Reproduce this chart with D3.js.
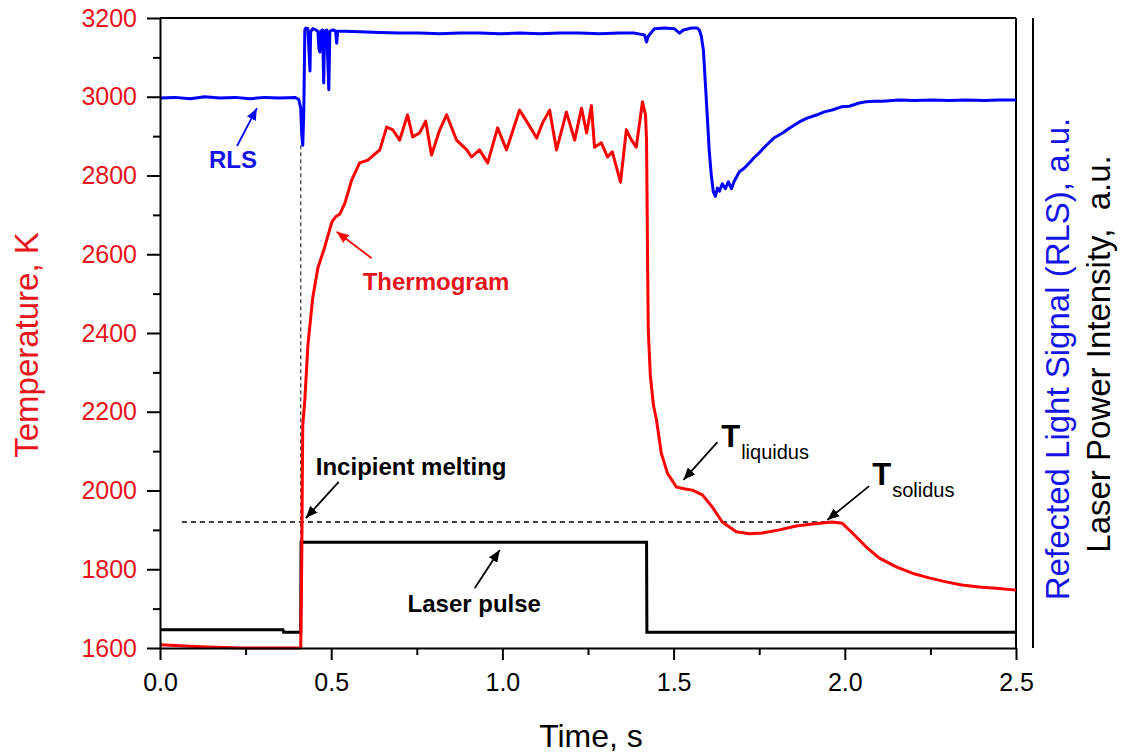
<!DOCTYPE html>
<html>
<head>
<meta charset="utf-8">
<script src="https://cdn.jsdelivr.net/npm/d3@7"></script>
<style>
html,body{margin:0;padding:0;background:#fff;}
svg{display:block;font-family:"Liberation Sans",Arial,sans-serif;}
</style>
</head>
<body>
<svg id="chart" width="1130" height="753"></svg>
<script>
// ---------- DATA ----------
// Thermogram (temperature, K)
const thermoTime = [0,0.117,0.233,0.408,0.411,0.414,0.416,0.417,0.423,0.432,0.446,0.461,0.481,0.502,0.513,0.525,0.540,0.560,0.583,0.607,0.624,0.642,0.662,0.680,0.700,0.723,0.738,0.758,0.776,0.793,0.817,0.837,0.866,0.896,0.910,0.933,0.957,0.986,1.012,1.050,1.074,1.100,1.117,1.138,1.158,1.187,1.211,1.231,1.246,1.260,1.269,1.289,1.307,1.321,1.345,1.362,1.377,1.391,1.409,1.418,1.421,1.424,1.426,1.432,1.441,1.450,1.464,1.482,1.508,1.534,1.555,1.584,1.613,1.642,1.683,1.721,1.759,1.809,1.858,1.905,1.963,1.992,2.022,2.062,2.100,2.150,2.197,2.246,2.296,2.342,2.392,2.442,2.5];
const thermoTemp = [1608,1603,1600,1600,1600,1823,2077,2166,2230,2370,2489,2565,2618,2682,2695,2702,2730,2789,2832,2839,2852,2865,2923,2916,2890,2954,2898,2908,2938,2852,2916,2954,2890,2865,2847,2865,2832,2921,2865,2966,2933,2895,2933,2966,2865,2961,2890,2971,2908,2977,2872,2883,2847,2860,2783,2916,2890,2872,2987,2954,2890,2585,2408,2293,2217,2179,2095,2044,2009,2004,2001,1989,1958,1920,1895,1890,1892,1900,1910,1915,1920,1917,1892,1857,1829,1806,1790,1778,1768,1760,1755,1752,1747];

// Reflected light signal (a.u.)
const rlsTime = [0,0.044,0.088,0.131,0.175,0.219,0.263,0.306,0.350,0.394,0.405,0.411,0.414,0.417,0.420,0.423,0.426,0.432,0.435,0.438,0.440,0.446,0.455,0.461,0.464,0.467,0.470,0.475,0.478,0.481,0.487,0.493,0.496,0.505,0.513,0.516,0.519,0.540,0.583,0.642,0.700,0.758,0.817,0.875,0.933,0.992,1.050,1.109,1.167,1.225,1.284,1.342,1.386,1.415,1.421,1.426,1.444,1.473,1.502,1.517,1.529,1.552,1.569,1.575,1.581,1.587,1.593,1.599,1.604,1.610,1.616,1.622,1.628,1.634,1.642,1.651,1.660,1.669,1.677,1.692,1.707,1.721,1.736,1.750,1.771,1.794,1.817,1.838,1.867,1.890,1.917,1.940,1.963,1.990,2.013,2.042,2.062,2.086,2.109,2.159,2.202,2.255,2.305,2.354,2.407,2.450,2.5];
const rlsValue = [87.3,87.4,87.2,87.5,87.3,87.4,87.2,87.4,87.3,87.4,87.1,85.7,81.4,79.8,85.4,98.1,98.4,98.3,94.9,91.6,97.8,98.3,98.1,97.9,95.2,94.6,97.9,98.1,89.7,97.9,98.1,88.6,97.9,98.1,97.9,96.0,97.9,97.9,97.8,97.7,97.6,97.6,97.5,97.6,97.6,97.5,97.6,97.5,97.6,97.6,97.5,97.6,97.6,97.3,96.2,97.1,98.3,98.4,98.3,97.6,98.1,98.4,98.4,98.1,97.1,94.9,89.4,83.8,79.0,75.1,72.4,71.7,73.0,72.5,73.7,72.9,74.0,72.9,74.1,75.6,76.2,77.0,77.9,78.6,79.8,81.0,81.7,82.5,83.5,84.1,84.6,85.1,85.4,85.9,86.0,86.5,86.7,86.8,86.8,87.0,86.9,87.0,86.9,87.0,86.9,87.0,87.0];

// Laser power intensity (a.u.)
const laserTime  = [0,0.359,0.361,0.411,0.412,1.421,1.422,2.5];
const laserValue = [2.9,2.9,2.5,2.5,16.8,16.8,2.5,2.5];

// Axis ticks
const xMajorTicks = [0,0.5,1.0,1.5,2.0,2.5];
const xMinorTicks = [0.25,0.75,1.25,1.75,2.25];
const yMajorTicks = [1600,1800,2000,2200,2400,2600,2800,3000,3200];
const yMinorTicks = [1700,1900,2100,2300,2500,2700,2900,3100];

// Reference levels
const meltTemp = 1920;           // incipient melting / solidus level, K
const meltLineStart = 0.064, meltLineEnd = 1.984;
const onsetTime = 0.411;         // laser onset, s
const onsetRlsDip = 79.8;        // RLS dip at onset, a.u.

// ---------- LAYOUT ----------
const svg = d3.select("#chart");
const L = 160, R = 1016, T = 18, B = 648;
const RED = "#ff0000", REDTXT = "#e8141c", BLUE = "#0000ff", BLUETXT = "#1414e6";

const x = d3.scaleLinear().domain([0, 2.5]).range([L, R]);
const y = d3.scaleLinear().domain([1600, 3200]).range([B, T]);
const yR = d3.scaleLinear().domain([0, 100]).range([B, T]);

// frame: top and right borders + extra right axis line
svg.append("line").attr("x1", L).attr("x2", R).attr("y1", T).attr("y2", T)
  .attr("stroke", "#000").attr("stroke-width", 2);
svg.append("line").attr("x1", R).attr("x2", R).attr("y1", T).attr("y2", B)
  .attr("stroke", "#000").attr("stroke-width", 2);
svg.append("line").attr("x1", 1033).attr("x2", 1033).attr("y1", T).attr("y2", B)
  .attr("stroke", "#000").attr("stroke-width", 2);

// dashed reference lines
svg.append("line")
  .attr("x1", x(onsetTime)).attr("x2", x(onsetTime))
  .attr("y1", yR(onsetRlsDip)).attr("y2", y(1600))
  .attr("stroke", "#444").attr("stroke-width", 1.3).attr("stroke-dasharray", "4,3");
svg.append("line")
  .attr("x1", x(meltLineStart)).attr("x2", x(meltLineEnd))
  .attr("y1", y(meltTemp)).attr("y2", y(meltTemp))
  .attr("stroke", "#000").attr("stroke-width", 1.3).attr("stroke-dasharray", "5,4");

// lines
const laserData = laserTime.map((t, i) => [t, laserValue[i]]);
const rlsData = rlsTime.map((t, i) => [t, rlsValue[i]]);
const thermoData = thermoTime.map((t, i) => [t, thermoTemp[i]]);

svg.append("path").datum(laserData)
  .attr("d", d3.line().x(d => x(d[0])).y(d => yR(d[1])))
  .attr("fill", "none").attr("stroke", "#000").attr("stroke-width", 3);
svg.append("path").datum(rlsData)
  .attr("d", d3.line().x(d => x(d[0])).y(d => yR(d[1])))
  .attr("fill", "none").attr("stroke", BLUE).attr("stroke-width", 3).attr("stroke-linejoin", "round");
svg.append("path").datum(thermoData)
  .attr("d", d3.line().x(d => x(d[0])).y(d => y(d[1])))
  .attr("fill", "none").attr("stroke", RED).attr("stroke-width", 3).attr("stroke-linejoin", "round");

// axes
const fmtX = d3.format(".1f");
const gx = svg.append("g").attr("transform", `translate(0,${B})`)
  .call(d3.axisBottom(x).tickValues(xMajorTicks).tickFormat(fmtX).tickSize(12).tickPadding(13).tickSizeOuter(0));
svg.append("g").attr("transform", `translate(0,${B})`)
  .call(d3.axisBottom(x).tickValues(xMinorTicks).tickFormat("").tickSize(7).tickSizeOuter(0))
  .select(".domain").remove();
const gy = svg.append("g").attr("transform", `translate(${L},0)`)
  .call(d3.axisLeft(y).tickValues(yMajorTicks).tickFormat(d3.format("d")).tickSize(13).tickPadding(10).tickSizeOuter(0));
svg.append("g").attr("transform", `translate(${L},0)`)
  .call(d3.axisLeft(y).tickValues(yMinorTicks).tickFormat("").tickSize(7).tickSizeOuter(0))
  .select(".domain").remove();

svg.selectAll(".domain").attr("stroke", "#000").attr("stroke-width", 2);
svg.selectAll(".tick line").attr("stroke", "#000").attr("stroke-width", 2);
gx.selectAll("text").attr("font-size", 25).attr("fill", "#000")
  .attr("font-family", "'Liberation Sans',Arial,sans-serif");
gy.selectAll("text").attr("font-size", 25).attr("fill", REDTXT)
  .attr("font-family", "'Liberation Sans',Arial,sans-serif");

// axis titles
svg.append("text").attr("x", 591).attr("y", 747).attr("text-anchor", "middle")
  .attr("font-size", 32).attr("fill", "#000").text("Time, s");
svg.append("text").attr("transform", "translate(38,345) rotate(-90)").attr("text-anchor", "middle")
  .attr("font-size", 33).attr("fill", REDTXT).text("Temperature, K");
svg.append("text").attr("transform", "translate(1069,359) rotate(-90)").attr("text-anchor", "middle")
  .attr("font-size", 33).attr("fill", BLUETXT).text("Refected Light Signal (RLS), a.u.");
svg.append("text").attr("transform", "translate(1110,354) rotate(-90)").attr("text-anchor", "middle")
  .attr("font-size", 33).attr("fill", "#000").attr("xml:space", "preserve").text("Laser Power Intensity,  a.u.");

// ---------- ANNOTATIONS ----------
const defs = svg.append("defs");
function marker(id, color) {
  defs.append("marker").attr("id", id).attr("viewBox", "0 0 12 10")
    .attr("refX", 12).attr("refY", 5).attr("markerWidth", 12).attr("markerHeight", 10)
    .attr("markerUnits", "userSpaceOnUse").attr("orient", "auto")
    .append("path").attr("d", "M0,0 L12,5 L0,10 Z").attr("fill", color);
}
marker("arBlue", BLUE); marker("arRed", RED); marker("arBlack", "#000");

function arrow(t1, v1, t2, v2, color, id) {
  svg.append("line").attr("x1", x(t1)).attr("y1", y(v1)).attr("x2", x(t2)).attr("y2", y(v2))
    .attr("stroke", color).attr("stroke-width", 1.8).attr("marker-end", `url(#${id})`);
}
function label(t, v, txt, color, anchor) {
  svg.append("text").attr("x", x(t)).attr("y", y(v)).attr("text-anchor", anchor || "start")
    .attr("font-size", 24).attr("font-weight", "bold").attr("fill", color).text(txt);
}

label(0.213, 2819, "RLS", BLUETXT, "middle");
arrow(0.225, 2875, 0.283, 2971, BLUE, "arBlue");

label(0.592, 2509, "Thermogram", REDTXT);
arrow(0.618, 2590, 0.516, 2657, RED, "arRed");

label(0.455, 2039, "Incipient melting", "#000");
arrow(0.522, 2022, 0.426, 1930, "#000", "arBlack");

label(0.723, 1691, "Laser pulse", "#000");
arrow(0.919, 1752, 0.992, 1849, "#000", "arBlack");

function subLabel(t, v, main, sub) {
  const tx = svg.append("text").attr("x", x(t)).attr("y", y(v)).attr("fill", "#000");
  tx.append("tspan").attr("font-size", 31).attr("font-weight", "bold").text(main);
  tx.append("tspan").attr("font-size", 20).attr("dx", 1).attr("dy", 12).text(sub);
}
subLabel(1.639, 2110, "T", "liquidus");
arrow(1.628, 2123, 1.529, 2027, "#000", "arBlack");

subLabel(2.080, 2014, "T", "solidus");
arrow(2.071, 2011, 1.949, 1925, "#000", "arBlack");
</script>
</body>
</html>
